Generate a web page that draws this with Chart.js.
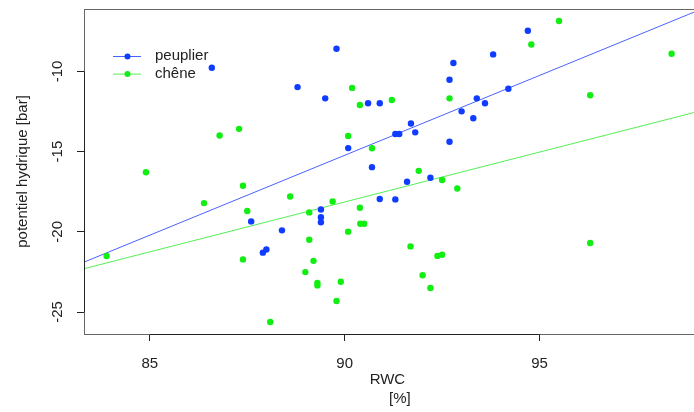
<!DOCTYPE html>
<html>
<head>
<meta charset="utf-8">
<script src="https://cdn.jsdelivr.net/npm/chart.js@4"></script>
<style>
    html, body { margin: 0; padding: 0; background: #fff; overflow: hidden; width: 694px; height: 412px; }
    #wrap { width: 700px; height: 412px; }
</style>
</head>
<body>
<div id="wrap"><canvas id="rwcChart" width="700" height="412"></canvas></div>
<script>
// RWC (%) et potentiel hydrique (bar)
const peuplierRWC = [86.59, 87.60, 87.90, 87.99, 88.39, 88.79, 89.39, 89.39, 89.39, 89.50, 89.79,
    90.09, 90.60, 90.70, 90.90, 90.90, 91.30, 91.40, 91.30, 91.60, 91.70, 91.81, 92.20,
    92.69, 92.69, 92.79, 93.00, 93.30, 93.39, 93.60, 93.81, 94.20, 94.70];
const peuplierPot = [-9.77, -19.35, -21.30, -21.10, -19.91, -10.98, -18.61, -19.09, -19.40, -11.68, -8.59,
    -14.78, -11.99, -15.97, -11.99, -17.95, -13.90, -13.90, -17.98, -16.88, -13.25, -13.80, -16.63,
    -10.52, -14.39, -9.48, -12.49, -12.92, -11.68, -11.99, -8.94, -11.08, -7.47];

const cheneRWC = [83.89, 84.90, 86.39, 86.79, 87.29, 87.39, 87.50, 87.39, 88.09, 88.60, 88.99,
    89.09, 89.09, 89.20, 89.30, 89.30, 89.69, 89.79, 89.90, 90.09, 90.09, 90.19, 90.39,
    90.39, 90.40, 90.50, 90.70, 91.21, 91.69, 91.90, 92.00, 92.20, 92.38, 92.50, 92.50,
    92.69, 92.89, 94.79, 95.50, 96.30, 96.30, 98.39];
const chenePot = [-21.51, -16.29, -18.21, -14.00, -13.58, -17.13, -18.70, -21.72, -25.62, -17.80, -22.51,
    -18.79, -20.49, -21.81, -23.18, -23.34, -18.11, -24.31, -23.11, -14.02, -19.99, -11.03, -12.09,
    -18.50, -19.50, -19.50, -14.79, -11.78, -20.91, -16.20, -22.71, -23.50, -21.50, -21.43, -16.77,
    -11.68, -17.30, -8.32, -6.86, -11.49, -20.70, -8.90];

// droites de régression (extrémités lues aux bords du graphique)
const fitRWC = [83.31, 98.99];
const fitPeuplier = [-21.89, -6.28];
const fitChene = [-22.30, -12.55];

const xTicks = [85, 90, 95];
const yTicks = [-25, -20, -15, -10];
const xRange = [83.31, 98.99];
const yRange = [-26.37, -6.11];

const bleu = '#0f3cff';
const vert = '#11ee11';
const texte = '#222222';

function toPoints(xs, ys) {
    return xs.map((x, i) => ({ x, y: ys[i] }));
}

// cadre + lignes d'axe (style R)
const cadrePlugin = {
    id: 'cadre',
    afterDraw(chart) {
        const { ctx, chartArea } = chart;
        const xs = chart.scales.x, ys = chart.scales.y;
        ctx.save();
        ctx.strokeStyle = '#666';
        ctx.lineWidth = 1;
        ctx.strokeRect(chartArea.left + 0.5, chartArea.top + 0.5,
            chartArea.right - chartArea.left, chartArea.bottom - chartArea.top);
        ctx.strokeStyle = texte;
        ctx.beginPath();
        ctx.moveTo(xs.getPixelForValue(xTicks[0]), chartArea.bottom + 0.5);
        ctx.lineTo(xs.getPixelForValue(xTicks[xTicks.length - 1]), chartArea.bottom + 0.5);
        ctx.moveTo(chartArea.left + 0.5, ys.getPixelForValue(yTicks[0]));
        ctx.lineTo(chartArea.left + 0.5, ys.getPixelForValue(yTicks[yTicks.length - 1]));
        ctx.stroke();
        ctx.restore();
    }
};

// légende dans la zone du graphique
const legendePlugin = {
    id: 'legende',
    afterDraw(chart) {
        const { ctx } = chart;
        const items = chart.data.datasets.filter(d => !d.fit);
        ctx.save();
        ctx.font = '15px "Liberation Sans", Arial, sans-serif';
        ctx.textBaseline = 'middle';
        items.forEach((d, i) => {
            const y = 56 + i * 17.6;
            ctx.strokeStyle = d.legendLine;
            ctx.lineWidth = 1;
            ctx.beginPath();
            ctx.moveTo(113, y + 0.5);
            ctx.lineTo(141, y + 0.5);
            ctx.stroke();
            ctx.fillStyle = d.backgroundColor;
            ctx.beginPath();
            ctx.arc(127.5, y + 0.5, 3, 0, Math.PI * 2);
            ctx.fill();
            ctx.fillStyle = texte;
            ctx.fillText(d.label, 155, y);
        });
        ctx.restore();
    }
};

const ctx = document.getElementById('rwcChart').getContext('2d');

new Chart(ctx, {
    type: 'scatter',
    data: {
        datasets: [
            {
                label: 'peuplier',
                data: toPoints(peuplierRWC, peuplierPot),
                backgroundColor: bleu,
                borderColor: bleu,
                legendLine: '#4a62ff',
                pointRadius: 3.2,
                borderWidth: 0
            },
            {
                label: 'chêne',
                data: toPoints(cheneRWC, chenePot),
                backgroundColor: vert,
                borderColor: vert,
                legendLine: '#55ee55',
                pointRadius: 3.2,
                borderWidth: 0
            },
            {
                type: 'line',
                fit: true,
                data: toPoints(fitRWC, fitPeuplier),
                borderColor: '#4a62ff',
                borderWidth: 1,
                pointRadius: 0
            },
            {
                type: 'line',
                fit: true,
                data: toPoints(fitRWC, fitChene),
                borderColor: '#55ee55',
                borderWidth: 1,
                pointRadius: 0
            }
        ]
    },
    options: {
        responsive: false,
        animation: false,
        layout: { padding: { left: 0, right: 5, top: 9, bottom: 0 } },
        scales: {
            x: {
                type: 'linear',
                min: xRange[0],
                max: xRange[1],
                afterBuildTicks: scale => { scale.ticks = xTicks.map(v => ({ value: v })); },
                afterFit: scale => { scale.height = 78; scale.paddingLeft = 0; scale.paddingRight = 0; },
                border: { display: false },
                grid: { drawOnChartArea: false, drawTicks: true, tickLength: 7, color: texte },
                ticks: {
                    color: texte,
                    padding: 14,
                    maxRotation: 0,
                    font: { family: '"Liberation Sans", Arial, sans-serif', size: 15 }
                },
                title: {
                    display: true,
                    text: ['RWC ', '     [%]'],
                    color: texte,
                    padding: { top: 0, bottom: 4 },
                    font: { family: '"Liberation Sans", Arial, sans-serif', size: 15, lineHeight: 1.27 }
                }
            },
            y: {
                type: 'linear',
                min: yRange[0],
                max: yRange[1],
                afterBuildTicks: scale => { scale.ticks = yTicks.map(v => ({ value: v })); },
                afterFit: scale => { scale.width = 84; scale.paddingTop = 0; scale.paddingBottom = 0; },
                border: { display: false },
                grid: { drawOnChartArea: false, drawTicks: true, tickLength: 7, color: texte },
                ticks: {
                    color: texte,
                    padding: 8,
                    minRotation: 90,
                    maxRotation: 90,
                    crossAlign: 'center',
                    font: { family: '"Liberation Sans", Arial, sans-serif', size: 15 }
                },
                title: {
                    display: true,
                    text: 'potentiel hydrique [bar]',
                    color: texte,
                    padding: { top: 14, bottom: 0 },
                    font: { family: '"Liberation Sans", Arial, sans-serif', size: 15 }
                }
            }
        },
        plugins: {
            legend: { display: false },
            tooltip: { enabled: false }
        }
    },
    plugins: [cadrePlugin, legendePlugin]
});
</script>
</body>
</html>
